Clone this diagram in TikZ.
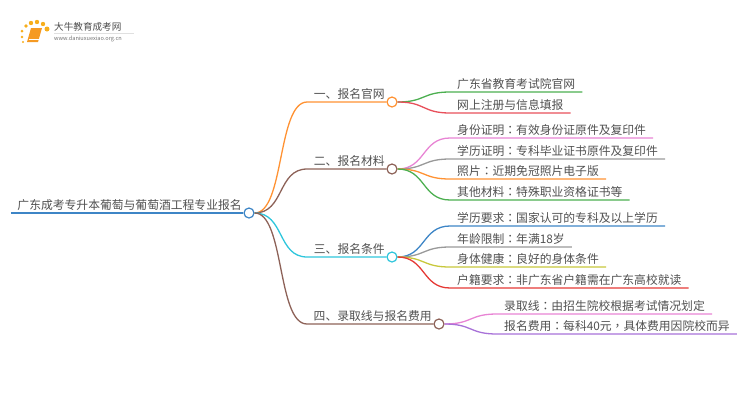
\documentclass[tikz,border=0pt]{standalone}
\usepackage{xcolor}
\usepackage{fontspec}
\setmainfont{Noto Sans CJK SC}
\newfontfamily\markfont{Noto Sans CJK TC}
\newcommand{\cln}{{\markfont ：}}
\newcommand{\cma}{{\markfont ，}}
\usetikzlibrary{positioning}

\definecolor{textgray}{HTML}{505050}
\definecolor{rootblue}{HTML}{3D85C6}
\definecolor{mmorange}{HTML}{FF9233}
\definecolor{mmbrown}{HTML}{8D6258}
\definecolor{mmcyan}{HTML}{2EC6DC}
\definecolor{mmgreen}{HTML}{4CAF50}
\definecolor{mmred}{HTML}{E8505B}
\definecolor{mmscarlet}{HTML}{E53935}
\definecolor{mmpink}{HTML}{E884D4}
\definecolor{mmgray}{HTML}{999999}
\definecolor{mmolive}{HTML}{C8C83C}
\definecolor{mmpurple}{HTML}{A872D8}
\definecolor{bookorange}{HTML}{F59A23}

\tikzset{
    label/.style={inner xsep=0pt, inner ysep=1.5pt, text=textgray, text height=10pt, text depth=2pt, font=\fontsize{11.8}{14}\selectfont},
    branchtext/.style={label, inner xsep=1.5pt, anchor=south east, execute at begin node=\hspace*{5pt}},
    leaf/.style={label, inner xsep=7pt, anchor=south west},
    hub/.style={circle, draw, fill=white, minimum size=10pt, inner sep=0pt, line width=1.2pt},
    link/.style={line width=1.3pt},
    bend/.style={out=0, in=180, distance=#1}
}

\begin{document}
\begin{tikzpicture}[x=1pt, y=-1pt]
    \useasboundingbox (0,0) rectangle (750,410);

    % Logo
    \fill [bookorange] (31,28) -- (42,28) -- (38,42) -- (27,42) -- cycle;
    \draw [white, line width=0.6pt] (29,39.5) -- (38.5,39.5);
    \foreach \dotx/\doty/\dotr in {22/31/1.5, 26/26/1.8, 31/23/2.2, 37/22/2.2, 43/24/2.2, 47/29/2.5, 22/37/1.3, 23/42/1.1} {
        \fill [bookorange!80!yellow] (\dotx,\doty) circle (\dotr pt);
    }
    \node (Site) [anchor=west, inner sep=0pt, text=black!70, font=\fontsize{9.6}{11}\selectfont] at (54,27) {大牛教育成考网};
    \node (Url) [anchor=west, inner sep=0pt, text=black!55, font=\fontsize{5.6}{7}\selectfont] at (54,39) {www.daniuxuexiao.org.cn};
    \draw [black!12, line width=0.5pt] (Site.south west) ++(0,1.5) -- ++(80,0);

    % Hubs
    \node (Root) [hub, draw=rootblue] at (249,213) {};
    \node (One) [hub, draw=mmorange] at (392,102) {};
    \node (Two) [hub, draw=mmbrown] at (392,169) {};
    \node (Three) [hub, draw=mmcyan] at (392,257) {};
    \node (Four) [hub, draw=mmbrown] at (439,324) {};

    % Hub titles
    \node (RootText) [branchtext, at={(Root.west)}] {广东成考专升本葡萄与葡萄酒工程专业报名};
    \node (OneText) [branchtext, at={(One.west)}] {一、报名官网};
    \node (TwoText) [branchtext, at={(Two.west)}] {二、报名材料};
    \node (ThreeText) [branchtext, at={(Three.west)}] {三、报名条件};
    \node (FourText) [branchtext, at={(Four.west)}] {四、录取线与报名费用};

    % Leaves
    \node (Portal) [leaf] at (450,92) {广东省教育考试院官网};
    \node (Online) [leaf] at (450,113) {网上注册与信息填报};
    \node (IdCard) [leaf] at (450,138) {身份证明\cln 有效身份证原件及复印件};
    \node (Degree) [leaf] at (450,159) {学历证明\cln 专科毕业证书原件及复印件};
    \node (Photo) [leaf] at (450,179) {照片\cln 近期免冠照片电子版};
    \node (Other) [leaf] at (450,200) {其他材料\cln 特殊职业资格证书等};
    \node (Edu) [leaf] at (450,226) {学历要求\cln 国家认可的专科及以上学历};
    \node (Age) [leaf] at (450,247) {年龄限制\cln 年满18岁};
    \node (Health) [leaf] at (450,267) {身体健康\cln 良好的身体条件};
    \node (Huji) [leaf] at (450,288) {户籍要求\cln 非广东省户籍需在广东高校就读};
    \node (Score) [leaf] at (497,314) {录取线\cln 由招生院校根据考试情况划定};
    \node (Fee) [leaf] at (497,334) {报名费用\cln 每科40元\cma 具体费用因院校而异};

    % Root line and branches
    \draw [link, rootblue] (RootText.south west) -- (Root.west);
    \draw [link, mmorange] (Root.east) to[bend=30pt] (OneText.south west) -- (One.west);
    \draw [link, mmbrown] (Root.east) to[bend=30pt] (TwoText.south west) -- (Two.west);
    \draw [link, mmcyan] (Root.east) to[bend=30pt] (ThreeText.south west) -- (Three.west);
    \draw [link, mmbrown] (Root.east) to[bend=30pt] (FourText.south west) -- (Four.west);

    % Leaf lines
    \draw [link, mmgreen] (One.east) to[bend=28pt] (Portal.south west) -- (Portal.south east);
    \draw [link, mmred] (One.east) to[bend=28pt] (Online.south west) -- (Online.south east);
    \draw [link, mmpink] (Two.east) to[bend=28pt] (IdCard.south west) -- (IdCard.south east);
    \draw [link, mmgray] (Two.east) to[bend=28pt] (Degree.south west) -- (Degree.south east);
    \draw [link, mmorange] (Two.east) to[bend=28pt] (Photo.south west) -- (Photo.south east);
    \draw [link, mmgreen] (Two.east) to[bend=28pt] (Other.south west) -- (Other.south east);
    \draw [link, rootblue] (Three.east) to[bend=28pt] (Edu.south west) -- (Edu.south east);
    \draw [link, mmgray] (Three.east) to[bend=28pt] (Age.south west) -- (Age.south east);
    \draw [link, mmolive] (Three.east) to[bend=28pt] (Health.south west) -- (Health.south east);
    \draw [link, mmscarlet] (Three.east) to[bend=28pt] (Huji.south west) -- (Huji.south east);
    \draw [link, mmpink] (Four.east) to[bend=28pt] (Score.south west) -- (Score.south east);
    \draw [link, mmpurple] (Four.east) to[bend=28pt] (Fee.south west) -- (Fee.south east);
\end{tikzpicture}
\end{document}
